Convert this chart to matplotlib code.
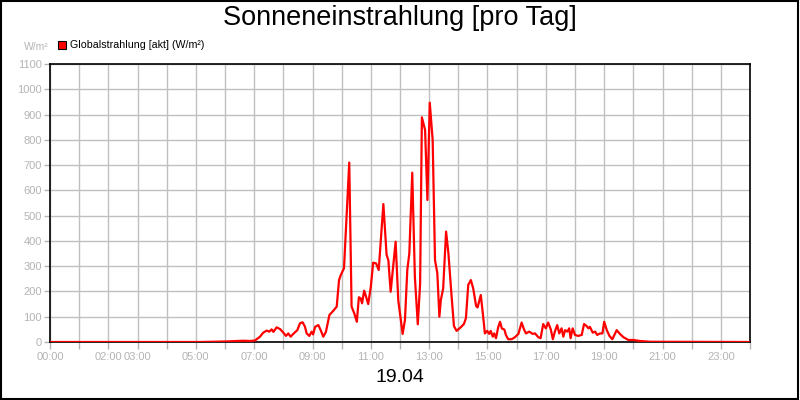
import numpy as np
import matplotlib.pyplot as plt
from matplotlib.patches import Rectangle

plt.rcParams['font.family'] = ['Liberation Sans', 'DejaVu Sans']

title = "Sonneneinstrahlung [pro Tag]"
dateLabel = "19.04"
seriesName = "Globalstrahlung [akt] (W/m²)"
unitLabel = "W/m²"

# time of day in hours, global radiation in W/m²
hours = [0.0, 5.14, 6.0, 6.62, 6.86, 7.03, 7.20, 7.31, 7.43, 7.52, 7.60, 7.66,
         7.77, 7.89, 8.0, 8.09, 8.17, 8.25, 8.34, 8.48, 8.57, 8.66, 8.74, 8.80,
         8.89, 8.97, 9.02, 9.09, 9.20, 9.28, 9.37, 9.46, 9.58, 9.71, 9.83, 9.91,
         9.97, 10.08, 10.26, 10.34, 10.43, 10.52, 10.59, 10.65, 10.70, 10.77,
         10.82, 10.91, 11.00, 11.08, 11.18, 11.27, 11.43, 11.54, 11.60, 11.68,
         11.85, 11.94, 12.09, 12.17, 12.25, 12.32, 12.42, 12.51, 12.61, 12.69,
         12.75, 12.86, 12.94, 13.02, 13.12, 13.20, 13.28, 13.35, 13.40, 13.48,
         13.58, 13.66, 13.77, 13.85, 13.94, 14.08, 14.19, 14.26, 14.34, 14.43,
         14.51, 14.61, 14.66, 14.77, 14.84, 14.91, 14.99, 15.06, 15.11, 15.18,
         15.23, 15.29, 15.37, 15.43, 15.49, 15.58, 15.63, 15.71, 15.83, 15.94,
         16.06, 16.17, 16.25, 16.32, 16.43, 16.55, 16.63, 16.74, 16.82, 16.91,
         17.00, 17.08, 17.17, 17.24, 17.31, 17.39, 17.46, 17.54, 17.60, 17.66,
         17.74, 17.80, 17.85, 17.92, 18.00, 18.11, 18.23, 18.31, 18.40, 18.46,
         18.51, 18.61, 18.69, 18.76, 18.86, 18.94, 19.00, 19.09, 19.18, 19.28,
         19.43, 19.54, 19.66, 19.83, 20.00, 20.23, 20.57, 24.0]
radiation = [0, 0, 2, 5, 4, 6, 21, 37, 45, 41, 50, 40,
             58, 51, 37, 24, 34, 21, 32, 47, 74, 78, 61, 34,
             24, 41, 30, 60, 67, 47, 21, 40, 107, 123, 140, 245,
             265, 292, 710, 140, 114, 80, 177, 173, 153, 203,
             186, 150, 219, 314, 311, 285, 546, 345, 324, 199,
             397, 166, 32, 87, 285, 351, 670, 257, 70, 232,
             889, 839, 562, 947, 799, 324, 272, 100, 166, 212,
             437, 351, 179, 63, 44, 58, 71, 94, 226, 245,
             212, 142, 137, 186, 113, 34, 44, 32, 44, 21,
             34, 15, 60, 80, 54, 49, 28, 11, 11, 19,
             32, 77, 50, 34, 41, 32, 34, 19, 15, 71,
             54, 77, 50, 11, 41, 67, 34, 54, 21, 47,
             41, 54, 15, 54, 28, 24, 28, 71, 63, 54,
             60, 37, 41, 28, 34, 34, 80, 47, 24, 11,
             47, 32, 19, 8, 8, 4, 1, 0]

tickHours = [0, 2, 3, 5, 7, 9, 11, 13, 15, 17, 19, 21, 23]
yTicks = list(range(0, 1101, 100))

grey = "#b4b4b4"

fig = plt.figure(figsize=(8, 4), dpi=100)
ax = fig.add_axes([50 / 800, 58 / 400, 700 / 800, 278 / 400])

ax.plot(hours, radiation, color="#ff0000", linewidth=1.6, zorder=3)

ax.set_xlim(0, 24)
ax.set_ylim(0, 1100)

# hourly grid, but only some hours get a label
ax.set_xticks(range(0, 25))
ax.set_xticklabels(["%02d:00" % h if h in tickHours else "" for h in range(0, 25)])
ax.set_yticks(yTicks)
ax.set_yticklabels([str(v) for v in yTicks])
ax.grid(True, color="#c0c0c0", linewidth=1.0, zorder=0)
ax.set_axisbelow(True)

ax.tick_params(axis="x", colors=grey, labelsize=8, length=5, width=1, pad=2)
ax.tick_params(axis="y", colors=grey, labelsize=8, length=4, width=1, pad=2)
for side in ax.spines.values():
    side.set_color("black")
    side.set_linewidth(1.2)

fig.text(0.5, 1 - 18 / 400, title, ha="center", va="center", fontsize=19.5)
fig.text(0.5, 1 - 378 / 400, dateLabel, ha="center", va="center", fontsize=14)
fig.text(36 / 800, 1 - 47 / 400, unitLabel, ha="center", va="center",
         fontsize=7.5, color=grey)

# legend box drawn by hand
fig.patches.append(Rectangle((58 / 800, 1 - 49 / 400), 8 / 800, 8 / 400,
                             transform=fig.transFigure, facecolor="#ff0000",
                             edgecolor="black", linewidth=0.8))
fig.text(70 / 800, 1 - 45 / 400, seriesName, ha="left", va="center",
         fontsize=7.7, color="black")

# outer frame
fig.patches.append(Rectangle((0.001, 0.002), 0.997, 0.995,
                             transform=fig.transFigure, fill=False,
                             edgecolor="black", linewidth=1.5))

fig.savefig("out.png", dpi=100)
